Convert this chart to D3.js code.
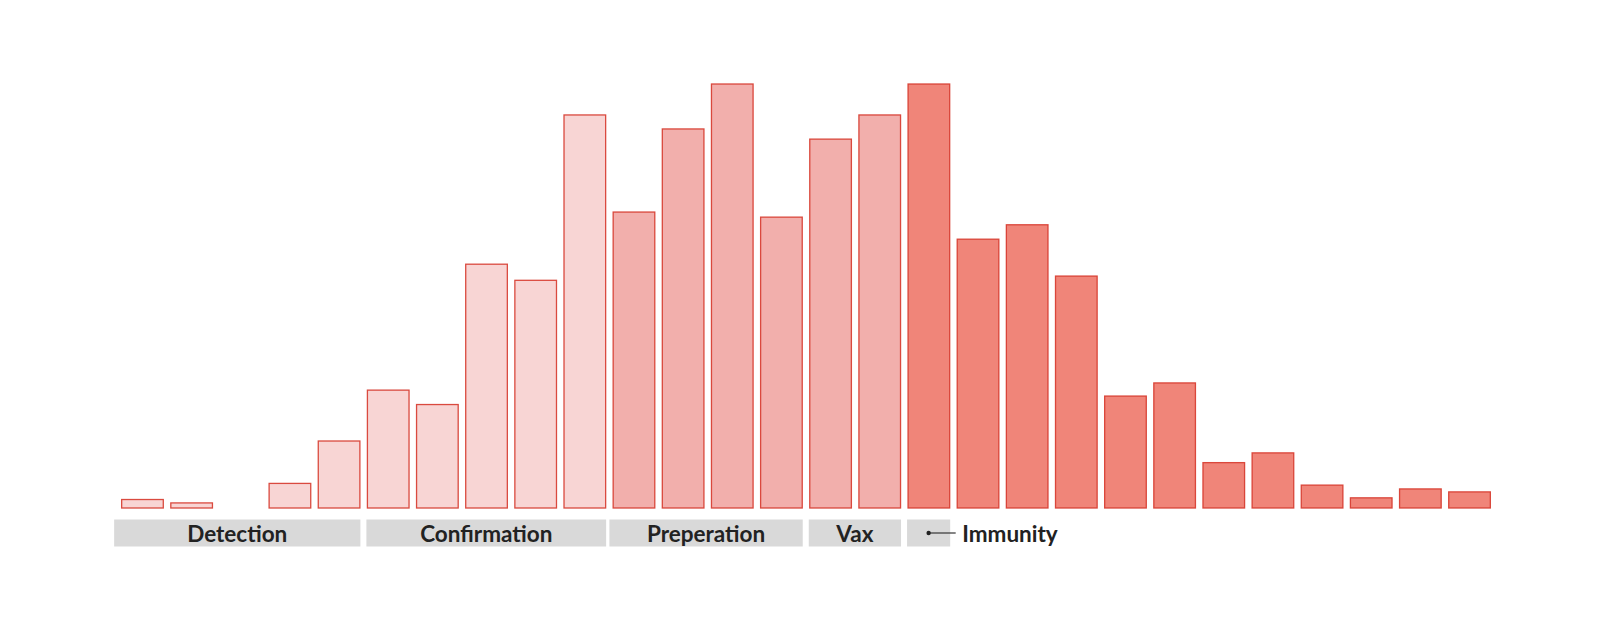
<!DOCTYPE html>
<html>
<head>
<meta charset="utf-8">
<script src="https://cdn.jsdelivr.net/npm/d3@7"></script>
<style>
  body { margin: 0; background: #fff; }
  svg { display: block; }
</style>
</head>
<body>
<div id="chart"></div>
<script>
// Bar heights, relative (tallest = 100)
const values = [2.0, 1.2, 0, 5.8, 15.8, 27.8, 24.4, 57.5, 53.7, 92.7,
                69.8, 89.4, 100, 68.6, 87.0, 92.7, 100, 63.4, 66.8, 54.7,
                26.4, 29.5, 10.7, 13.0, 5.4, 2.4, 4.5, 3.8];

// Shade group per bar: 0 light, 1 medium, 2 dark
const shades = [0, 0, 0, 0, 0, 0, 0, 0, 0, 0,
                1, 1, 1, 1, 1, 1,
                2, 2, 2, 2, 2, 2, 2, 2, 2, 2, 2, 2];

// Phase labels under the bars: first and last bar index
const phaseNames = ['Detection', 'Confirmation', 'Preperation', 'Vax', 'Immunity'];
const phaseStart = [0, 5, 10, 14, 16];
const phaseEnd = [4, 9, 13, 15, 16];

const width = 1623;
const height = 631;

const fills = ['#f8d5d4', '#f2afac', '#f08579'];
const strokeColor = '#d6382c';

const svg = d3.select('#chart')
    .append('svg')
    .attr('width', width)
    .attr('height', height);

// Scales
const x = d3.scaleBand()
    .domain(d3.range(values.length))
    .range([117.9, 1494.1])
    .paddingInner(0.153)
    .paddingOuter(0.0765);

const y = d3.scaleLinear()
    .domain([0, 100])
    .range([508, 84]);

const bars = values
    .map((v, i) => ({ i, v, shade: shades[i] }))
    .filter(d => d.v > 0);

// Bars
svg.append('g')
    .selectAll('rect')
    .data(bars)
    .join('rect')
    .attr('x', d => x(d.i))
    .attr('y', d => y(d.v))
    .attr('width', x.bandwidth())
    .attr('height', d => y(0) - y(d.v))
    .attr('fill', d => fills[d.shade])
    .attr('stroke', strokeColor)
    .attr('stroke-opacity', 0.9)
    .attr('stroke-width', 1.3);

// Phase boxes (box edges sit in the gaps between bars)
const gap = x.step() - x.bandwidth();
const phases = phaseNames.map((name, i) => ({
    name,
    x0: x(phaseStart[i]) - (i === 0 ? gap : i === 2 ? gap / 2 : 1),
    x1: x(phaseEnd[i]) + x.bandwidth() + 0.5
}));

const boxTop = 519.5;
const boxH = 27;
const font = 'Lato, "Open Sans", sans-serif';

const pg = svg.append('g');

pg.selectAll('rect')
    .data(phases)
    .join('rect')
    .attr('x', d => d.x0)
    .attr('y', boxTop)
    .attr('width', d => d.x1 - d.x0)
    .attr('height', boxH)
    .attr('fill', '#d9d9d9');

// Labels inside boxes (all but the last)
pg.selectAll('text.phase')
    .data(phases.slice(0, -1))
    .join('text')
    .attr('class', 'phase')
    .attr('x', d => (d.x0 + d.x1) / 2)
    .attr('y', boxTop + 22)
    .attr('text-anchor', 'middle')
    .attr('font-family', font)
    .attr('font-weight', 700)
    .attr('font-size', 22.5)
    .attr('fill', '#222')
    .text(d => d.name);

// Last phase has a callout to the right
const last = phases[phases.length - 1];
const cx = (last.x0 + last.x1) / 2;
const cy = boxTop + 13.5;

pg.append('line')
    .attr('x1', cx)
    .attr('x2', last.x1 + 5.5)
    .attr('y1', cy)
    .attr('y2', cy)
    .attr('stroke', '#333')
    .attr('stroke-width', 1.2);

pg.append('circle')
    .attr('cx', cx)
    .attr('cy', cy)
    .attr('r', 2.2)
    .attr('fill', '#222');

pg.append('text')
    .attr('x', last.x1 + 12)
    .attr('y', boxTop + 22)
    .attr('font-family', font)
    .attr('font-weight', 700)
    .attr('font-size', 22.5)
    .attr('fill', '#222')
    .text(last.name);
</script>
</body>
</html>
